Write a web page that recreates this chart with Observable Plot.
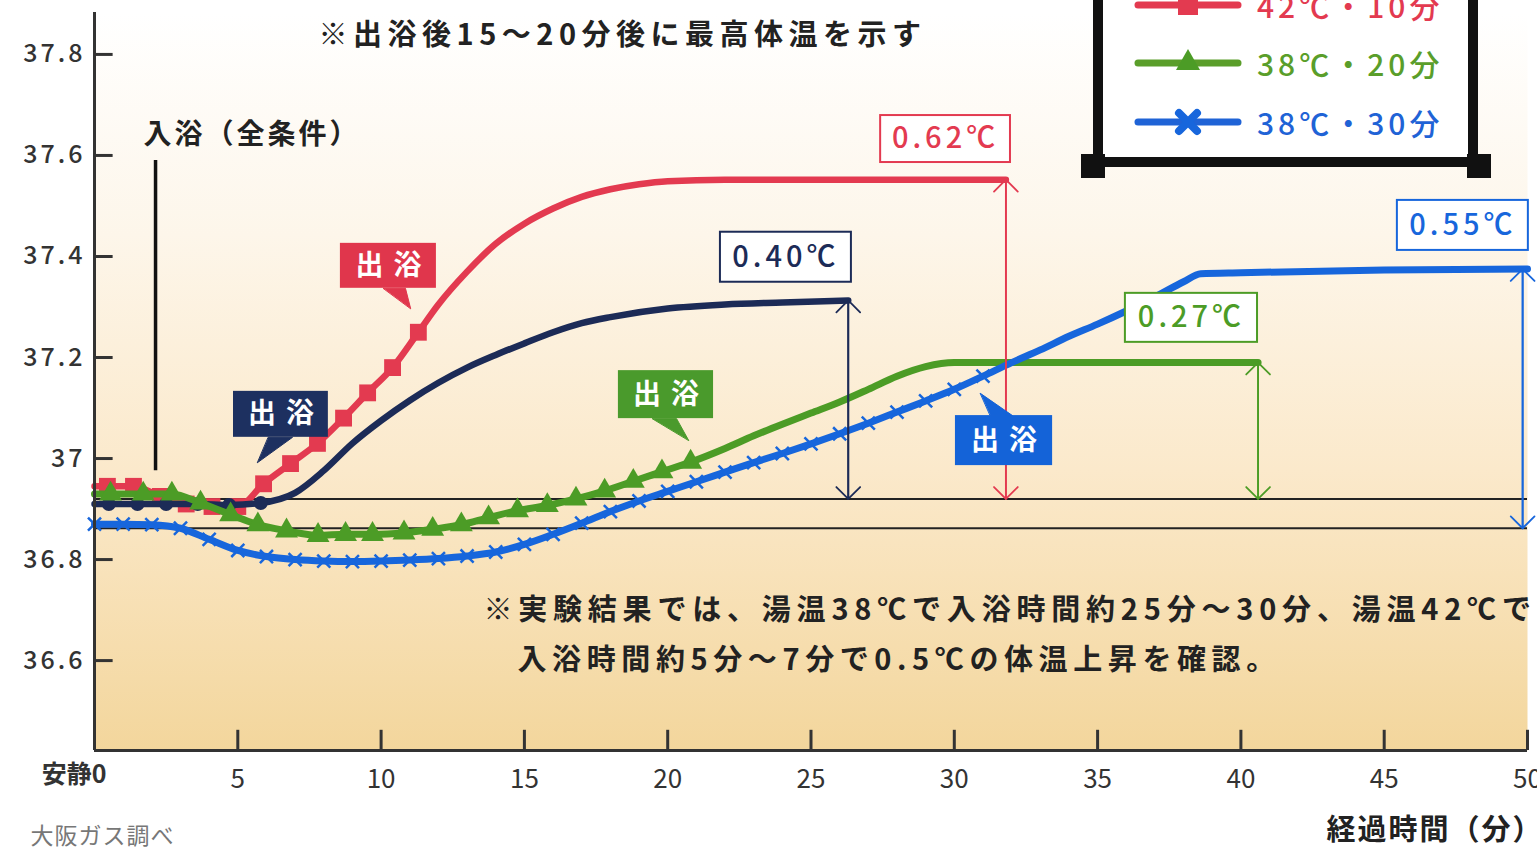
<!DOCTYPE html>
<html><head><meta charset="utf-8">
<script src="https://cdn.jsdelivr.net/npm/d3@7"></script>
<script src="https://cdn.jsdelivr.net/npm/@observablehq/plot@0.6"></script>
<style>
body{margin:0;background:#fff;}
#wrap{position:relative;width:1537px;height:855px;overflow:hidden;background:#fff;font-family:"Noto Sans CJK JP",sans-serif;}
#legend{position:absolute;left:1093px;top:-120px;width:385px;height:287px;box-sizing:border-box;border:10px solid #111;background:#fff;}
.corner{position:absolute;width:24px;height:24px;background:#111;}
.entry{position:absolute;left:1135px;height:40px;display:flex;align-items:center;white-space:nowrap;}
.entry svg{margin-right:16px;overflow:visible}
.entry span{font-size:30px;letter-spacing:4px;font-weight:500;}
</style></head>
<body>
<div id="wrap"><div id="chart"></div></div>
<script>
// ---- series (minutes, body temperature ℃) ----
const redT  = [0, 0.45, 1.36, 2.3, 3.2, 4.1, 5.0, 5.9, 6.84, 7.78, 8.69, 9.53, 10.4, 11.3, 12, 13, 14, 15, 16, 17, 18, 19, 20, 22, 25, 28, 31.8];
const redV  = [36.945, 36.945, 36.945, 36.925, 36.91, 36.905, 36.905, 36.95, 36.99, 37.03, 37.08, 37.13, 37.18, 37.25, 37.305, 37.37, 37.425, 37.465, 37.495, 37.518, 37.533, 37.543, 37.549, 37.552, 37.552, 37.552, 37.552];
const redMarkT = [0.45, 1.36, 2.3, 3.2, 4.1, 5.0, 5.9, 6.84, 7.78, 8.69, 9.53, 10.4, 11.3];

const navyT = [0, 0.5, 1.5, 2.5, 3.6, 4.7, 5.8, 7, 8, 9, 10, 11, 12, 13, 14, 15, 16, 17, 18, 20, 22, 24, 26.3];
const navyV = [36.91, 36.91, 36.91, 36.91, 36.91, 36.908, 36.912, 36.932, 36.976, 37.03, 37.075, 37.115, 37.15, 37.18, 37.205, 37.228, 37.25, 37.268, 37.28, 37.297, 37.305, 37.309, 37.313];
const navyMarkT = [0.5, 1.5, 2.5, 3.6, 4.7, 5.8];

const greenT = [0, 0.56, 1.7, 2.7, 3.7, 4.75, 5.7, 6.7, 7.8, 8.76, 9.7, 10.8, 11.8, 12.8, 13.75, 14.76, 15.8, 16.8, 17.8, 18.8, 19.8, 20.8, 22, 23, 24, 25, 26, 27, 28, 29, 30, 35, 40.6];
const greenV = [36.93, 36.93, 36.93, 36.93, 36.912, 36.889, 36.869, 36.857, 36.848, 36.85, 36.85, 36.853, 36.86, 36.869, 36.883, 36.897, 36.907, 36.92, 36.936, 36.955, 36.974, 36.993, 37.02, 37.045, 37.068, 37.09, 37.112, 37.137, 37.163, 37.182, 37.19, 37.19, 37.19];
const greenMarkT = [0.56, 1.7, 2.7, 3.7, 4.75, 5.7, 6.7, 7.8, 8.76, 9.7, 10.8, 11.8, 12.8, 13.75, 14.76, 15.8, 16.8, 17.8, 18.8, 19.8, 20.8];

const blueT = [0,1,2,3,4,5,6,7,8,9,10,11,12,13,14,15,16,17,18,19,20,21,22,23,24,25,26,27,28,29,30,31,32,33,34,35,36,37,38,38.6,40,45,50];
const blueV = [36.87,36.87,36.869,36.862,36.84,36.818,36.806,36.8,36.797,36.796,36.797,36.799,36.802,36.807,36.815,36.83,36.85,36.872,36.895,36.916,36.935,36.954,36.973,36.992,37.01,37.029,37.049,37.07,37.092,37.114,37.137,37.163,37.19,37.215,37.242,37.266,37.292,37.32,37.35,37.366,37.368,37.373,37.375];
const blueMarkUntil = 31;

const legendNames = ["42℃・10分", "38℃・20分", "38℃・30分"];

// ---- axes ----
const xDomain = [0, 50];
const yDomain = [36.422, 37.883];
const xTicks = [0, 5, 10, 15, 20, 25, 30, 35, 40, 45, 50];
const xTickLabels = ["安静0", "5", "10", "15", "20", "25", "30", "35", "40", "45", "50"];
const yTicks = [36.6, 36.8, 37, 37.2, 37.4, 37.6, 37.8];
const yTickLabels = ["36.6", "36.8", "37", "37.2", "37.4", "37.6", "37.8"];
const baselines = [36.92, 36.862];

// ---- annotations ----
const riseT    = [26.3, 31.8, 40.6, 49.83];
const riseTop  = [37.313, 37.552, 37.19, 37.375];
const riseBase = [36.92, 36.92, 36.92, 36.862];
const riseText = ["0.40℃", "0.62℃", "0.27℃", "0.55℃"];
const riseBoxT1 = [21.84, 27.43, 35.97, 45.46];
const riseBoxT2 = [26.41, 31.96, 40.58, 50.03];
const riseBoxV1 = [37.349, 37.586, 37.230, 37.412];
const riseBoxV2 = [37.448, 37.679, 37.327, 37.511];

const calloutText = "出浴";
const calloutT1 = [8.58, 4.85, 18.28, 30.04];
const calloutT2 = [11.93, 8.16, 21.6, 33.43];
const calloutV1 = [37.337, 37.042, 37.079, 36.986];
const calloutV2 = [37.426, 37.133, 37.174, 37.085];
const pointerT = [[10.08, 10.85, 11.03], [6.07, 6.91, 5.69], [19.47, 20.31, 20.73], [31.26, 32.03, 30.91]];
const pointerV = [[37.337, 37.337, 37.297], [37.042, 37.042, 36.992], [37.079, 37.079, 37.036], [37.085, 37.085, 37.129]];

const topNote = "※出浴後15～20分後に最高体温を示す";
const topNotePos = [7.82, 37.838];
const entryNote = "入浴（全条件）";
const entryNotePos = [1.71, 37.64];
const entryLine = {t: 2.13, v1: 36.976, v2: 37.59};
const resultNotes = ["※実験結果では、湯温38℃で入浴時間約25分～30分、湯温42℃で", "入浴時間約5分～7分で0.5℃の体温上昇を確認。"];
const resultNoteT = [13.57, 14.76];
const resultNoteV = [36.699, 36.6];
const sourceText = "大阪ガス調べ";
const xTitle = "経過時間（分）";

// ---- colours ----
const cRed = "#e33a50", cNavy = "#1c2b57", cGreen = "#4c9c26", cBlue = "#1766dc";
const calloutColors = ["#e0364c", "#1d3060", "#4a9a2c", "#1463d8"];
const riseColors = [cNavy, cRed, cGreen, cBlue];

const rows = (T, V) => T.map((t, i) => ({t, v: V[i]}));
const red = rows(redT, redV), navy = rows(navyT, navyV), green = rows(greenT, greenV), blue = rows(blueT, blueV);
const rise = riseT.map((t, i) => ({t, top: riseTop[i], base: riseBase[i], c: riseColors[i], text: riseText[i],
  x1: riseBoxT1[i], x2: riseBoxT2[i], y1: riseBoxV1[i], y2: riseBoxV2[i]}));
const callouts = calloutT1.map((t, i) => ({x1: t, x2: calloutT2[i], y1: calloutV1[i], y2: calloutV2[i], c: calloutColors[i]}));
const pointers = pointerT.flatMap((ts, i) => ts.map((t, j) => ({id: i, t, v: pointerV[i][j], c: calloutColors[i]})));

const JP = '"Noto Sans CJK JP", "Noto Sans", sans-serif';

const chart = Plot.plot({
  width: 1537, height: 855,
  marginLeft: 94, marginRight: 10, marginTop: 12, marginBottom: 105,
  x: {domain: xDomain},
  y: {domain: yDomain},
  style: {fontFamily: JP, background: "transparent", color: "#333"},
  marks: [
    Plot.frame({fill: "url(#bggrad)", stroke: "none"}),
    Plot.ruleY(baselines, {stroke: "#222", strokeWidth: 2}),
    Plot.ruleX([entryLine], {x: "t", y1: "v1", y2: "v2", stroke: "#111", strokeWidth: 3.5}),
    Plot.text([entryNote], {x: entryNotePos[0], y: entryNotePos[1], text: d => d, textAnchor: "start", fontSize: 28, fontWeight: "bold", fill: "#222"}),
    Plot.text([topNote], {x: topNotePos[0], y: topNotePos[1], text: d => d, textAnchor: "start", fontSize: 29, fontWeight: "bold", fill: "#222"}),
    Plot.text(resultNotes, {x: (d, i) => resultNoteT[i], y: (d, i) => resultNoteV[i], text: d => d, textAnchor: "start", fontSize: 29, fontWeight: "bold", fill: "#222"}),
    // curves
    Plot.line(red,   {x: "t", y: "v", stroke: cRed,   strokeWidth: 6.5, curve: "monotone-x"}),
    Plot.dot(red.filter(d => redMarkT.includes(d.t)), {x: "t", y: "v", symbol: "square", r: 9.5, fill: cRed}),
    Plot.line(navy,  {x: "t", y: "v", stroke: cNavy,  strokeWidth: 6.5, curve: "monotone-x"}),
    Plot.dot(navy.filter(d => navyMarkT.includes(d.t)), {x: "t", y: "v", symbol: "circle", r: 7, fill: cNavy}),
    Plot.line(green, {x: "t", y: "v", stroke: cGreen, strokeWidth: 7, curve: "monotone-x"}),
    Plot.dot(green.filter(d => greenMarkT.includes(d.t)), {x: "t", y: "v", symbol: "triangle", r: 8.5, fill: cGreen}),
    Plot.line(blue,  {x: "t", y: "v", stroke: cBlue,  strokeWidth: 7, curve: "monotone-x"}),
    Plot.dot(blue.filter(d => d.t <= blueMarkUntil), {x: "t", y: "v", symbol: "times", r: 6, stroke: cBlue, strokeWidth: 2.5}),
    // rise arrows
    Plot.arrow(rise, {x: "t", y1: "base", y2: "top", stroke: "c", strokeWidth: 1.8, headAngle: 90, headLength: 14}),
    Plot.arrow(rise, {x: "t", y1: "top", y2: "base", stroke: "c", strokeWidth: 1.8, headAngle: 90, headLength: 14}),
    Plot.rect(rise, {x1: "x1", x2: "x2", y1: "y1", y2: "y2", fill: "white", stroke: "c", strokeWidth: 2}),
    Plot.text(rise, {x: d => (d.x1 + d.x2) / 2, y: d => (d.y1 + d.y2) / 2, text: "text", fill: "c", fontSize: 29, fontWeight: 500}),
    // callouts
    Plot.line(pointers, {x: "t", y: "v", z: "id", fill: "c", stroke: "c", strokeWidth: 1, curve: "linear-closed"}),
    Plot.rect(callouts, {x1: "x1", x2: "x2", y1: "y1", y2: "y2", fill: "c"}),
    Plot.text(callouts, {x: d => (d.x1 + d.x2) / 2, y: d => (d.y1 + d.y2) / 2, text: () => calloutText, fill: "white", fontSize: 28, fontWeight: "bold", dx: 5}),
    // axes
    Plot.ruleX([xDomain[0]], {stroke: "#333", strokeWidth: 3}),
    Plot.ruleY([yDomain[0]], {stroke: "#333", strokeWidth: 3}),
    Plot.ruleY(yTicks, {x1: xDomain[0], x2: 0.65, stroke: "#333", strokeWidth: 3}),
    Plot.ruleX(xTicks.slice(1), {y1: yDomain[0], y2: yDomain[0] + 0.04, stroke: "#333", strokeWidth: 3}),
    Plot.axisY(yTicks, {tickSize: 0, tickPadding: 9, fontSize: 25, fontWeight: 500, label: null, tickFormat: (d, i) => yTickLabels[i], fill: "#333"}),
    Plot.axisX(xTicks.slice(1), {tickSize: 0, tickPadding: 19, fontSize: 26, label: null, tickFormat: (d, i) => xTickLabels[i + 1], fill: "#333"}),
    Plot.text([xTickLabels[0]], {x: xTicks[0], frameAnchor: "bottom", dy: 32, dx: 12, textAnchor: "end", text: d => d, fontSize: 25, fontWeight: "bold", fill: "#333"}),
    Plot.text([sourceText], {frameAnchor: "bottom-left", dx: -64, dy: 93, textAnchor: "start", text: d => d, fontSize: 23, fill: "#777"}),
    Plot.text([xTitle], {frameAnchor: "bottom-right", dx: 16, dy: 89, textAnchor: "end", text: d => d, fontSize: 29, fontWeight: "bold", fill: "#222"})
  ]
});

// background gradient for the plotting area
const defs = d3.select(chart).insert("defs", ":first-child");
const grad = defs.append("linearGradient").attr("id", "bggrad").attr("x1", 0).attr("y1", 0).attr("x2", 0).attr("y2", 1);
[[0, "#ffffff"], [0.3, "#fdf6ea"], [0.62, "#fbe9cb"], [1, "#f3d69c"]].forEach(([o, c]) =>
  grad.append("stop").attr("offset", o).attr("stop-color", c));

// letter spacing for the Japanese annotations
const spacing = new Map([[topNote, 5.5], [entryNote, 3], [resultNotes[0], 5.8], [resultNotes[1], 5.6], [calloutText, 10], [xTitle, 2], [sourceText, 1]]);
d3.select(chart).selectAll("text").each(function () {
  const s = spacing.get(this.textContent);
  if (s != null) this.setAttribute("letter-spacing", s + "px");
  if (riseText.includes(this.textContent)) this.setAttribute("letter-spacing", "4px");
  if (yTickLabels.includes(this.textContent)) this.setAttribute("letter-spacing", "3px");
});

document.getElementById("chart").append(chart);

// ---- legend (its top is cut off by the picture edge) ----
const wrap = document.getElementById("wrap");
const lg = document.createElement("div"); lg.id = "legend"; wrap.append(lg);
[[1081, 154], [1467, 154]].forEach(([l, t]) => {
  const c = document.createElement("div"); c.className = "corner"; c.style.left = l + "px"; c.style.top = t + "px"; wrap.append(c);
});
const legendSym = [
  '<rect x="43" y="10" width="20" height="20" fill="' + cRed + '"/>',
  '<path d="M53,6 L65,27 L41,27 Z" fill="' + cGreen + '"/>',
  '<path d="M44,11 L62,29 M62,11 L44,29" stroke="' + cBlue + '" stroke-width="8" stroke-linecap="round"/>'
];
const legendColors = [cRed, "#5a9e2a", "#1f63d6"];
const legendY = [5, 63, 122];
legendNames.forEach((name, i) => {
  const e = document.createElement("div"); e.className = "entry"; e.style.top = (legendY[i] - 20) + "px";
  e.innerHTML = '<svg width="106" height="40"><line x1="3" x2="103" y1="20" y2="20" stroke="' + legendColors[i] + '" stroke-width="7" stroke-linecap="round"/>' + legendSym[i] + '</svg><span style="color:' + legendColors[i] + '">' + name + '</span>';
  wrap.append(e);
});
</script>
</body></html>
